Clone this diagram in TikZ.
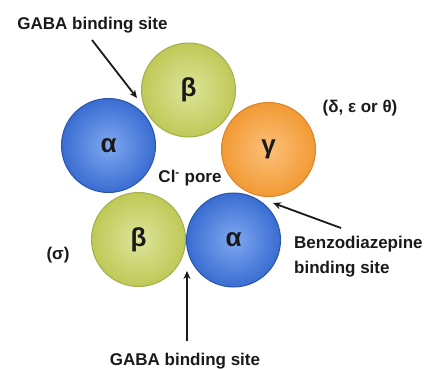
\documentclass[tikz,border=0pt]{standalone}
\usepackage{fontspec}
\setmainfont{Liberation Sans}
\usetikzlibrary{arrows.meta}
\definecolor{txt}{HTML}{1A1A1A}
\definecolor{bluein}{HTML}{7FA8F0}
\definecolor{blueout}{HTML}{3A6DD2}
\definecolor{blueedge}{HTML}{2A55A8}
\definecolor{grnin}{HTML}{DDE49A}
\definecolor{grnout}{HTML}{BFC957}
\definecolor{grnedge}{HTML}{A3AE50}
\definecolor{orin}{HTML}{FBC07A}
\definecolor{orout}{HTML}{F29A34}
\definecolor{oredge}{HTML}{D9822A}
\tikzset{
  sub/.style={circle, minimum size=94pt, inner sep=0pt, line width=1pt,
     font=\bfseries\fontsize{26}{26}\selectfont, text=txt},
  alphasub/.style={sub, draw=blueedge, inner color=bluein, outer color=blueout},
  betasub/.style={sub, draw=grnedge, inner color=grnin, outer color=grnout},
  gammasub/.style={sub, draw=oredge, inner color=orin, outer color=orout},
  lbl/.style={font=\bfseries\fontsize{17}{25}\selectfont, text=txt, inner sep=0pt},
  pointer/.style={draw=txt, line width=1.8pt, -{Stealth[length=8pt,width=7pt]}}
}
\begin{document}
\begin{tikzpicture}[x=1pt,y=-1pt]
\useasboundingbox[fill=white] (0,0) rectangle (432,369);
\node[betasub]  (b1) at (188.5,90)  {β};
\node[alphasub] (a1) at (108.5,145.5) {α};
\node[gammasub] (g)  at (268.5,149.5) {γ};
\node[betasub]  (b2) at (138.5,239.5) {β};
\node[alphasub] (a2) at (233.5,240) {α};

\node[lbl] (gtop) at (92.5,25) {GABA binding site};
\node[lbl] (gbot) at (185,361) {GABA binding site};
\node[lbl] (cl) at (190,178) {Cl\textsuperscript{-} pore};
\node[lbl] (other) at (360,108) {(δ, ε or θ)};
\node[lbl] (sigma) at (58,255) {(σ)};
\node[lbl, align=left, anchor=north west] (bz) at (294,236) {Benzodiazepine\\binding site};

\coordinate (ttop) at (137,98);
\coordinate (tbot) at (187,271);
\coordinate (tbz) at (273,203);
\coordinate (sbz) at (341,228);
\coordinate (stop) at (92,40);
\coordinate (sbot) at (187,341);

\draw[pointer] (stop) -- (ttop);
\draw[pointer] (sbot) -- (tbot);
\draw[pointer] (sbz) -- (tbz);
\end{tikzpicture}
\end{document}
